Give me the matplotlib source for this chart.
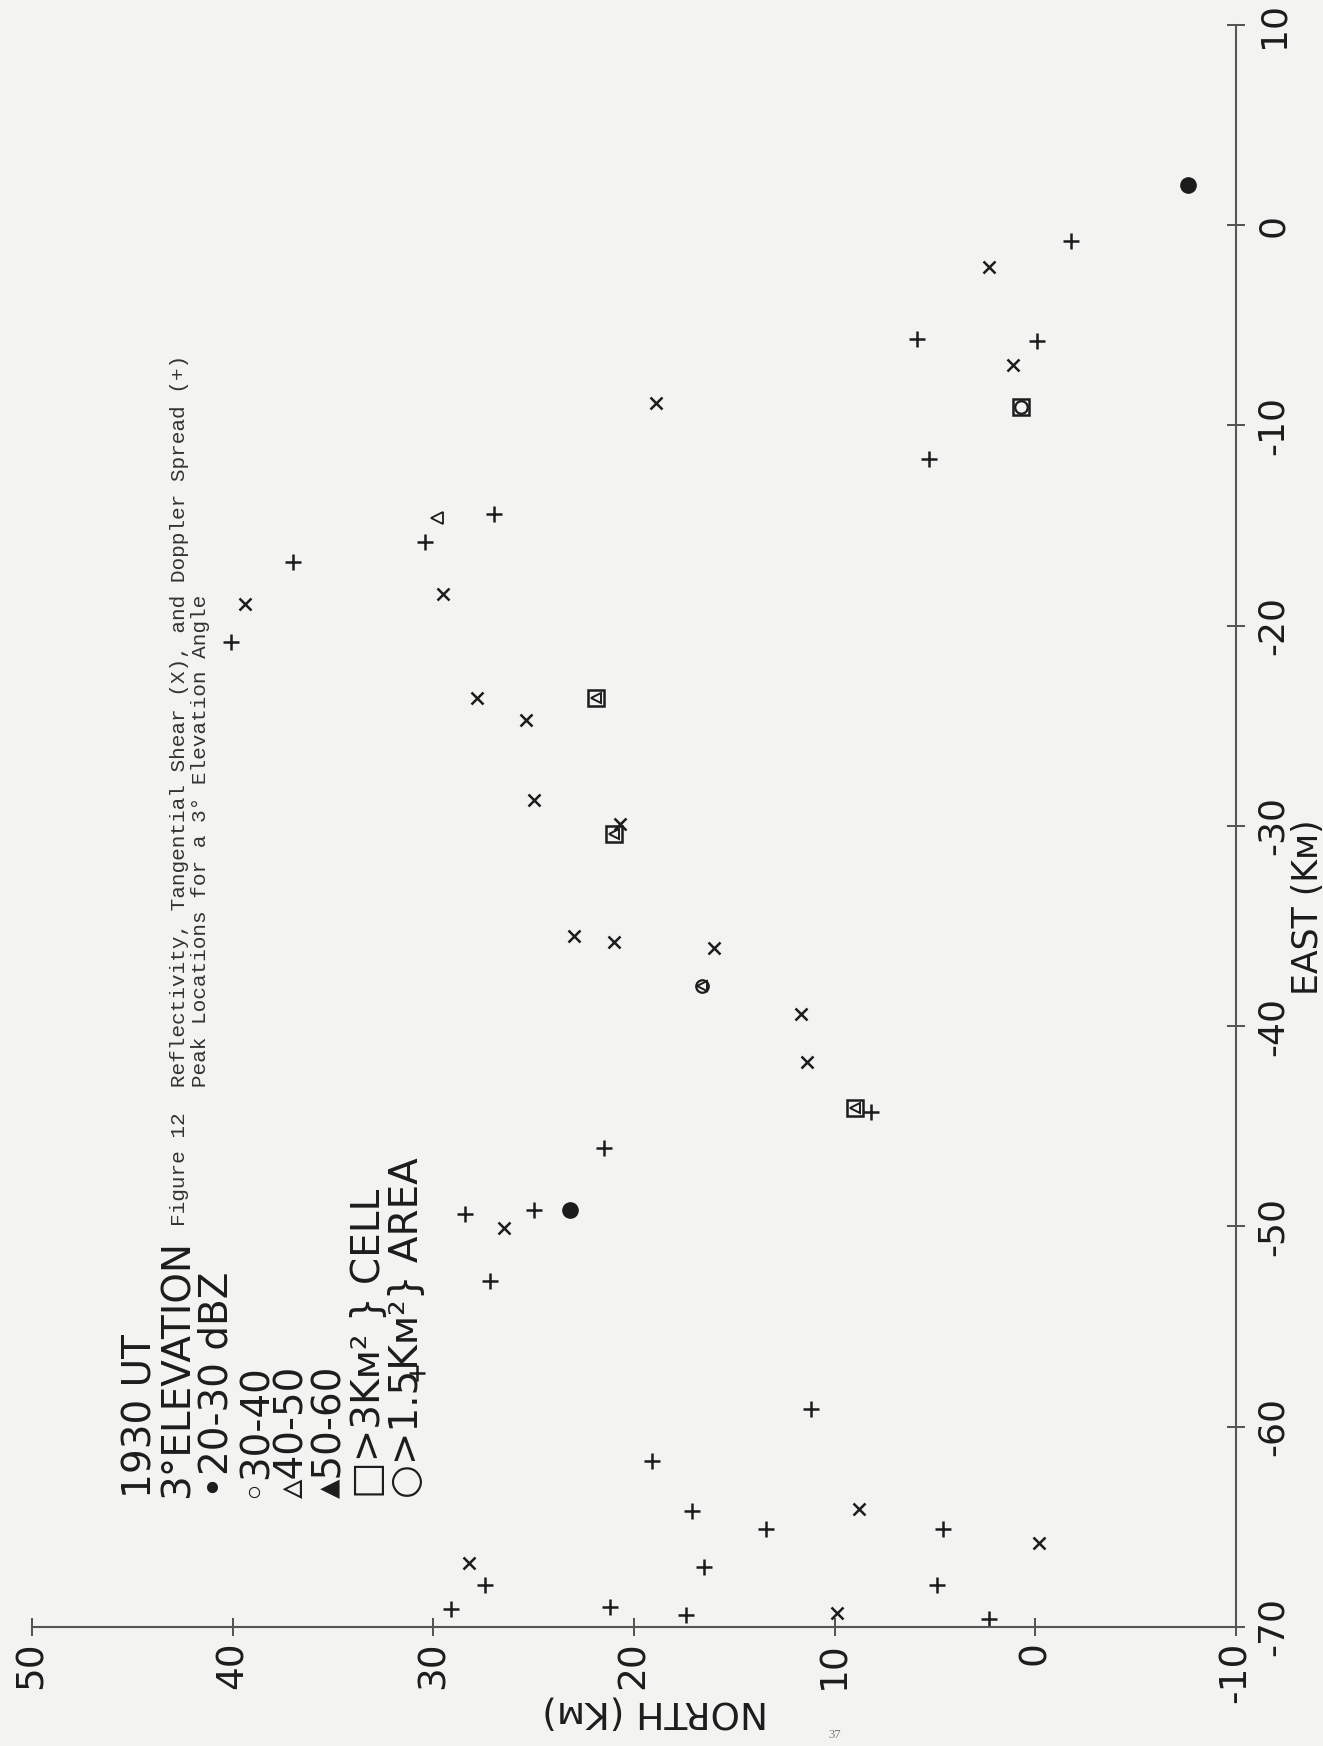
import numpy as np
import matplotlib
matplotlib.use('Agg')
from matplotlib import pyplot as plt

# peak locations, North (km) / East (km)
# doppler spread peaks (+)
spread_north = [-1.8, 5.9, -0.1, 5.3, 27.0, 30.4, 37.0, 40.1, 21.5, 25.0, 28.4, 30.8,
                11.2, 19.1, 17.1, 4.6, 13.4, 16.5, 27.4, 29.1, 21.2, 17.4, 4.9, 2.3, 8.2, 27.2]
spread_east = [-0.8, -5.7, -5.8, -11.7, -14.4, -15.8, -16.8, -20.8, -46.1, -49.2, -49.4, -57.3,
               -59.1, -61.7, -64.2, -65.1, -65.1, -67.0, -67.9, -69.1, -69.0, -69.4, -67.9, -69.6, -44.3, -52.7]
# tangential shear peaks (x)
shear_north = [2.3, 1.1, 18.9, 29.5, 39.4, 27.8, 25.4, 25.0, 20.7, 23.0, 21.0, 16.0,
               11.7, 11.4, 28.2, 8.8, 9.9, -0.2, 26.5]
shear_east = [-2.1, -7.0, -8.9, -18.4, -18.9, -23.6, -24.7, -28.7, -29.9, -35.5, -35.8, -36.1,
              -39.4, -41.8, -66.8, -64.1, -69.3, -65.8, -50.1]
# reflectivity peaks
dbz20_north = [-7.6, 23.2]
dbz20_east = [2.0, -49.2]
dbz40_north = [29.8]
dbz40_east = [-14.6]
cell_north = [0.7, 21.9, 21.0, 9.0]
cell_east = [-9.1, -23.6, -30.4, -44.1]
area_north = [0.7, 16.6]
area_east = [-9.1, -38.0]
tri_north = [21.9, 21.0, 16.6, 9.0]
tri_east = [-23.6, -30.4, -38.0, -44.1]

north_ticks = [50, 40, 30, 20, 10, 0, -10]
east_ticks = [10, 0, -10, -20, -30, -40, -50, -60, -70]

key_lines = ['1930 UT', '3°ELEVATION', '•20-30 dBZ', '◦30-40', '▵40-50', '▴50-60',
             '□>3Kᴍ² } CELL', '○>1.5Kᴍ²} AREA']

ink = '#1c1c1c'
paper = '#f3f3f1'

fig = plt.figure(figsize=(13.23, 17.46), dpi=100, facecolor=paper)
ax = fig.add_axes([0.0242, 0.0682, 0.9100, 0.9175])
ax.set_facecolor(paper)

ax.plot(spread_north, spread_east, '+', color=ink, markersize=12, markeredgewidth=1.8, clip_on=False)
ax.plot(shear_north, shear_east, 'x', color=ink, markersize=9, markeredgewidth=1.8, clip_on=False)
ax.plot(dbz20_north, dbz20_east, 'o', color=ink, markersize=11, clip_on=False)
ax.plot(cell_north, cell_east, 's', color=ink, markerfacecolor='none', markersize=12, markeredgewidth=1.8)
ax.plot(area_north, area_east, 'o', color=ink, markerfacecolor='none', markersize=9, markeredgewidth=1.6)
ax.plot(tri_north, tri_east, '<', color=ink, markerfacecolor='none', markersize=7, markeredgewidth=1.4)
ax.plot(dbz40_north, dbz40_east, '<', color=ink, markerfacecolor='none', markersize=8, markeredgewidth=1.3)

ax.set_xlim(50, -10)
ax.set_ylim(-70, 10)
ax.spines['top'].set_visible(False)
ax.spines['left'].set_visible(False)
for s in ['right', 'bottom']:
    ax.spines[s].set_color('#555555')
    ax.spines[s].set_linewidth(1.5)
ax.yaxis.tick_right()
ax.set_xticks(north_ticks)
ax.set_yticks(east_ticks)
ax.set_xticklabels([str(t) for t in north_ticks], rotation=90, fontsize=27, family='DejaVu Sans')
ax.set_yticklabels([str(t) for t in east_ticks], rotation=90, fontsize=26, family='DejaVu Sans', va='center')
ax.tick_params(axis='both', direction='inout', length=13, width=1.3, color='#444444', labelcolor=ink)
ax.tick_params(axis='x', pad=4)
ax.tick_params(axis='y', pad=8)

# axis titles
fig.text(655 / 1323, 1 - 1712 / 1746, 'NORTH (Kᴍ)', rotation=180, fontsize=27, color=ink,
         ha='center', va='center', family='DejaVu Sans')
fig.text(1308 / 1323, 1 - 907 / 1746, 'EAST (Kᴍ)', rotation=90, fontsize=25, color=ink,
         ha='center', va='center', family='DejaVu Sans')

# key, one column per line
fig.text(273 / 1323, 1 - 1498 / 1746, '\n'.join(key_lines), rotation=90, fontsize=28, color=ink,
         ha='center', va='bottom', multialignment='left', linespacing=1.0, family='DejaVu Sans')

# caption
fig.text(170 / 1323, 1 - 1226 / 1746,
         'Figure 12  Reflectivity, Tangential Shear (X), and Doppler Spread (+)\n'
         '           Peak Locations for a 3° Elevation Angle',
         rotation=90, fontsize=15.2, color='#333333', ha='left', va='bottom',
         family='Liberation Mono', linespacing=1.1)

fig.text(835 / 1323, 1 - 1735 / 1746, '37', fontsize=9, color='#777777', ha='center', va='center',
         family='Liberation Serif')

plt.savefig('out.png', dpi=100, facecolor=paper)
